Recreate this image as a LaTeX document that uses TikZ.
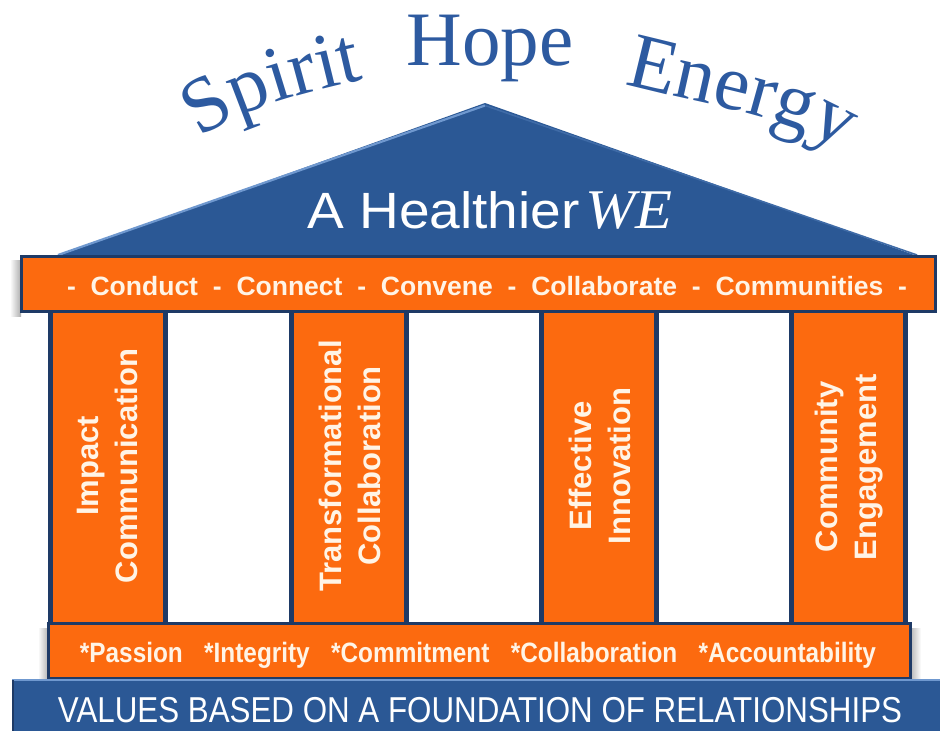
\documentclass[tikz,border=0pt]{standalone}
\usepackage{fontspec}
\setmainfont{Liberation Sans}
\newfontfamily\serifw{Liberation Serif}
\usetikzlibrary{decorations.text}
\definecolor{orng}{HTML}{FC6A0F}
\definecolor{roofblue}{HTML}{2B5895}
\definecolor{txtblue}{HTML}{2D5AA0}
\definecolor{edgeblue}{HTML}{1E3A66}
\definecolor{hiblue}{HTML}{6F98CF}
\definecolor{cream}{HTML}{FFF4E6}
\begin{document}
\begin{tikzpicture}[x=1pt,y=-1pt,
  colbox/.style={fill=orng, draw=edgeblue, line width=5pt},
  coltext/.style={text=cream, font=\bfseries\fontsize{31}{39}\selectfont, align=center, rotate=90, inner sep=0pt},
  bandbox/.style={fill=orng, draw=edgeblue, line width=3pt},
  shadowl/.style={left color=white, right color=gray!65},
  shadowr/.style={left color=gray!65, right color=white},
  arcword/.style={decorate, decoration={text along path, text align=center, text color=txtblue,
      text={|\serifw\fontsize{79}{79}\selectfont|#1}}}
]
\useasboundingbox (0,0) rectangle (940,731);
\fill[white] (0,0) rectangle (940,731);

% arched words
\path[arcword=Spirit] (192,146) .. controls (232,108) and (318,90) .. (374,77);
\node[anchor=base, text=txtblue, font=\serifw\fontsize{77}{77}\selectfont, inner sep=0pt] (hope) at (490,65) {Hope};
\path[arcword=Energy] (606,78) .. controls (668,101) and (800,112) .. (858,162);

% roof
\fill[roofblue] (55,257) -- (485,103) -- (920,257) -- cycle;
\draw[hiblue, line width=2.2pt, line join=round] (58,255) -- (485,105.5);
\draw[roofblue!70!hiblue, line width=1.6pt, line join=round] (485,105.5) -- (917,255);
\node[anchor=base, text=white, font=\fontsize{51}{51}\selectfont, xscale=1.08, inner sep=0pt] (title) at (490,228)
  {A Healthier\hspace{5pt}{\serifw\itshape\fontsize{56}{56}\selectfont WE}};

% columns
\draw[colbox] (50,305) rectangle (165,625);
\draw[colbox] (291,305) rectangle (406,625);
\draw[colbox] (541,305) rectangle (656,625);
\draw[colbox] (791,305) rectangle (905,625);
\node[coltext] (c1) at (107.5,466) {Impact\\Communication};
\node[coltext] (c2) at (349.5,466) {Transformational\\Collaboration};
\node[coltext] (c3) at (599.5,466) {Effective\\Innovation};
\node[coltext] (c4) at (849,467) {Community\\Engagement};

% top band
\shade[shadowl] (10,260) rectangle (21,316);
\draw[bandbox] (21.5,256.5) rectangle (935.5,311.5);
\node[anchor=base, text=cream, font=\bfseries\fontsize{26.5}{30}\selectfont, inner sep=0pt] (verbs) at (487,295)
  {\makebox[840pt]{-\hfill Conduct\hfill -\hfill Connect\hfill -\hfill Convene\hfill -\hfill Collaborate\hfill -\hfill Communities\hfill -}};

% values band
\shade[shadowl] (38,628) rectangle (49,680);
\shade[shadowr] (909,628) rectangle (921,680);
\draw[bandbox] (48.5,623.5) rectangle (910.5,678);
\node[anchor=base, text=cream, font=\bfseries\fontsize{28}{30}\selectfont, xscale=0.87, inner sep=0pt] (values) at (478,662)
  {\makebox[915pt]{*Passion\hfill *Integrity\hfill *Commitment\hfill *Collaboration\hfill *Accountability}};

% foundation
\fill[roofblue] (12,679) rectangle (940,731);
\draw[hiblue, line width=1.5pt] (12,680) -- (940,680);
\draw[edgeblue, line width=2pt] (13,680) -- (13,731);
\node[anchor=base, text=white, font=\fontsize{36}{36}\selectfont, xscale=0.87, inner sep=0pt] (found) at (480,722)
  {VALUES BASED ON A FOUNDATION OF RELATIONSHIPS};
\end{tikzpicture}
\end{document}
